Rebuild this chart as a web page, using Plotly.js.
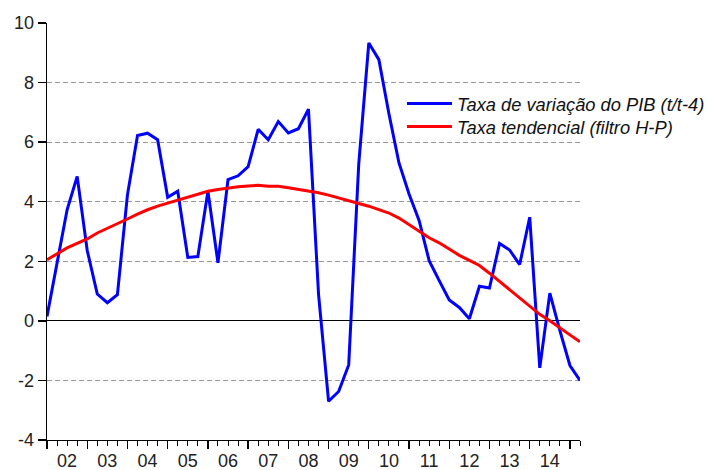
<!DOCTYPE html>
<html>
<head>
<meta charset="utf-8">
<script src="https://cdn.plot.ly/plotly-3.0.1.min.js"></script>
<style>html,body{margin:0;padding:0;background:#fff;}#chart{width:712px;height:470px;}</style>
</head>
<body>
<div id="chart"></div>
<script>
// Quarterly observations (index 0 = first quarter shown)
const pibYoY = [0.15, 1.95, 3.73, 4.85, 2.36, 0.9, 0.61, 0.88, 4.23, 6.22, 6.3, 6.08, 4.15, 4.35, 2.13, 2.16,
  4.35, 1.95, 4.74, 4.87, 5.18, 6.43, 6.08, 6.69, 6.31, 6.45, 7.11, 0.9, -2.7, -2.37, -1.48, 5.27,
  9.33, 8.77, 6.95, 5.3, 4.26, 3.37, 2.02, 1.35, 0.7, 0.45, 0.07, 1.16, 1.1, 2.6, 2.38, 1.89,
  3.48, -1.58, 0.93, -0.33, -1.5, -2.0];
const trendHP = [2.05, 2.25, 2.45, 2.6, 2.75, 2.95, 3.1, 3.25, 3.42, 3.58, 3.73, 3.85, 3.95, 4.06, 4.15, 4.25,
  4.35, 4.41, 4.46, 4.5, 4.53, 4.55, 4.52, 4.52, 4.47, 4.42, 4.36, 4.3, 4.22, 4.12, 4.03, 3.94,
  3.85, 3.73, 3.62, 3.45, 3.22, 3.0, 2.79, 2.62, 2.42, 2.2, 2.03, 1.86, 1.6, 1.32, 1.06, 0.79,
  0.5, 0.22, 0.0, -0.25, -0.47, -0.7];
const yearLabels = ["02","03","04","05","06","07","08","09","10","11","12","13","14"];
const seriesNames = ["Taxa de variação do PIB (t/t-4)", "Taxa tendencial (filtro H-P)"];
const yTicks = [-4, -2, 0, 2, 4, 6, 8, 10];
const yTickText = ["-4", "-2", "0", "2", "4", "6", "8", "10"];
const yGrid = [-2, 2, 4, 6, 8];

const qIdx = pibYoY.map((_, i) => i);
const lastIdx = qIdx.length - 1;
const yearStarts = yearLabels.map((_, k) => 4 * k).concat([4 * yearLabels.length]);
const yearMids = yearLabels.map((_, k) => 4 * k + 2);

const FONT = "Liberation Sans, Arial, sans-serif";
const legendFont = {family: FONT, size: 18.3, style: "italic", color: "#111"};

const traces = [
  {x: [0], y: [0], xaxis: "x2", yaxis: "y2", mode: "markers", marker: {opacity: 0}, showlegend: false, hoverinfo: "skip"},
  {x: qIdx, y: pibYoY, type: "scatter", mode: "lines", name: seriesNames[0],
   line: {color: "#0000ff", width: 3}, xaxis: "x", yaxis: "y", legend: "legend"},
  {x: qIdx, y: trendHP, type: "scatter", mode: "lines", name: seriesNames[1],
   line: {color: "#ff0000", width: 3}, xaxis: "x", yaxis: "y", legend: "legend2"}
];

const layout = {
  width: 712, height: 470,
  margin: {l: 47, r: 132, t: 23, b: 30, autoexpand: false},
  paper_bgcolor: "#fff", plot_bgcolor: "#fff",
  font: {family: FONT, size: 18, color: "#222"},
  showlegend: true,
  legend: {x: 0.666, y: 0.851, xanchor: "left", yanchor: "top", itemwidth: 45,
    bgcolor: "rgba(0,0,0,0)", font: legendFont},
  legend2: {x: 0.666, y: 0.796, xanchor: "left", yanchor: "top", itemwidth: 45,
    bgcolor: "rgba(0,0,0,0)", font: legendFont},
  xaxis: {range: [0, lastIdx], tickmode: "array", tickvals: yearStarts, ticktext: yearStarts.map(() => ""),
    ticks: "outside", ticklen: 8, tickwidth: 1.3, tickcolor: "#000",
    showline: true, linecolor: "#000", linewidth: 1.3, showgrid: false, zeroline: false,
    minor: {tickmode: "linear", tick0: 0, dtick: 1, ticks: "outside", ticklen: 5, tickcolor: "#000", tickwidth: 1, showgrid: false}},
  xaxis2: {overlaying: "x", anchor: "y", side: "bottom", range: [0, lastIdx], tickmode: "array",
    tickvals: yearMids, ticktext: yearLabels, ticks: "", showline: false, showgrid: false, zeroline: false,
    ticklabelstandoff: 8, tickfont: {family: FONT, size: 18, color: "#222"}},
  yaxis: {range: [-4, 10], tickmode: "array", tickvals: yTicks, ticktext: yTickText, ticks: "outside", ticklen: 8,
    tickcolor: "#000", tickwidth: 1.3, showline: true, linecolor: "#000", linewidth: 1.3,
    showgrid: false, zeroline: true, zerolinecolor: "#000", zerolinewidth: 1,
    tickfont: {family: FONT, size: 18, color: "#222"}},
  yaxis2: {overlaying: "y", anchor: "x", range: [-4, 10], tickmode: "array", tickvals: yGrid,
    showticklabels: false, ticks: "", showline: false, zeroline: false,
    showgrid: true, gridcolor: "#9a9a9a", gridwidth: 1, griddash: "5px,3px"}
};

Plotly.newPlot("chart", traces, layout, {staticPlot: true, displayModeBar: false});
</script>
</body>
</html>
